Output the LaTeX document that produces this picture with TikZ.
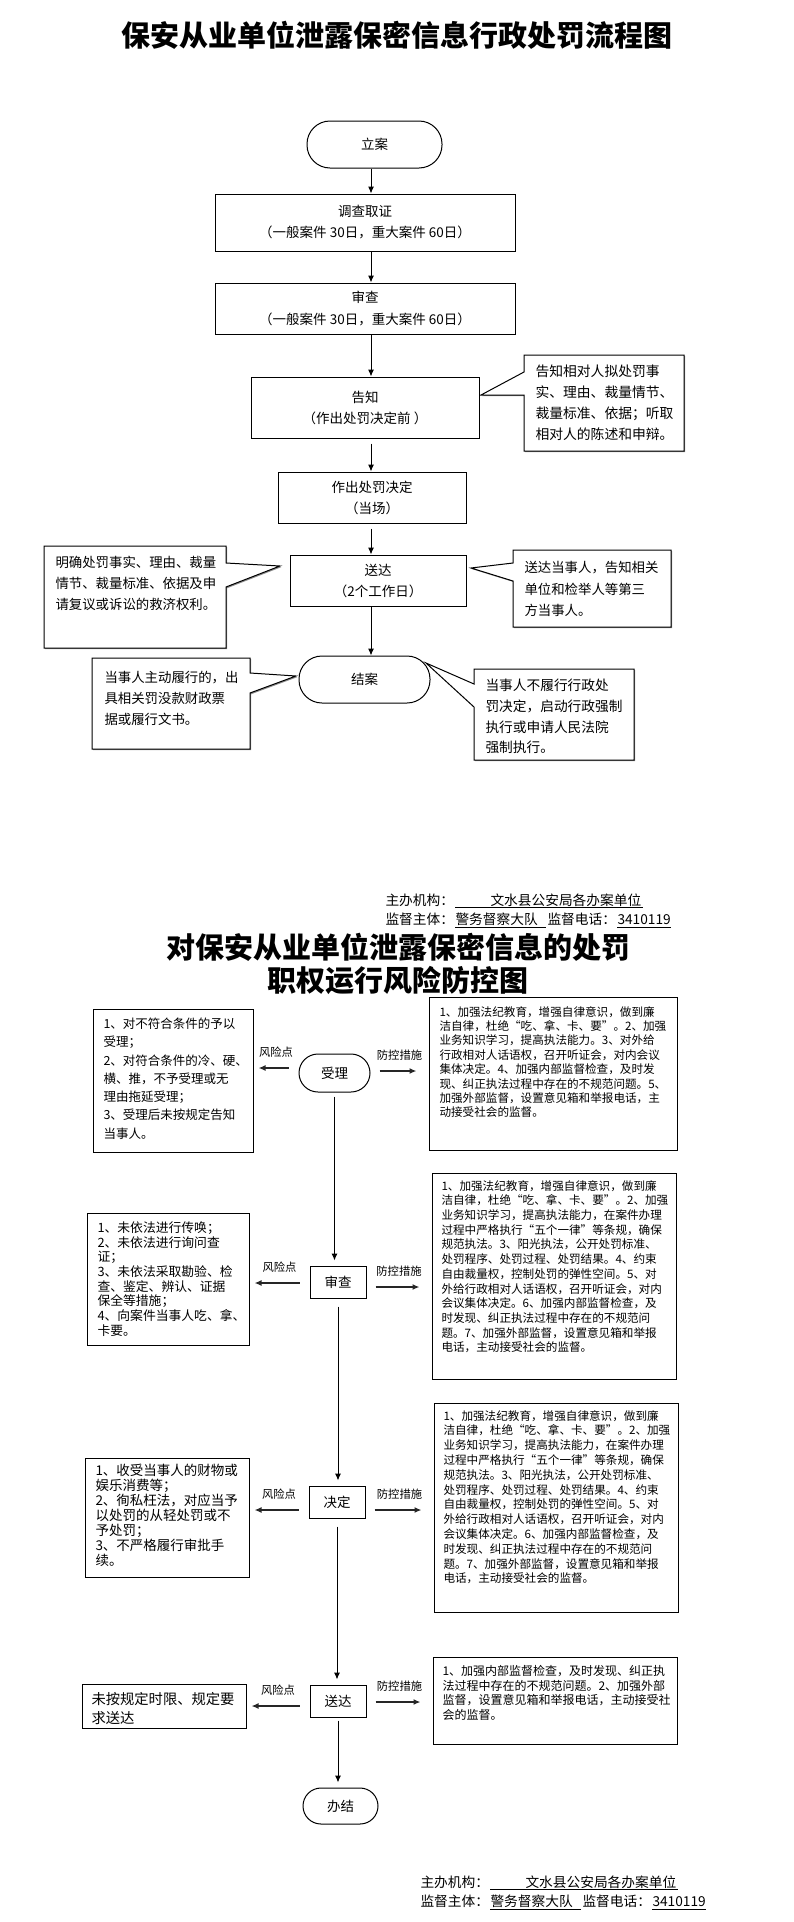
\documentclass[tikz,border=0pt]{standalone}
\usepackage{fontspec}
\setmainfont{Noto Sans CJK SC}
\usetikzlibrary{arrows.meta,shadows}
\definecolor{shadowgray}{HTML}{8C8C8C}
\definecolor{arrowgray}{HTML}{262626}
\newcommand{\fsz}[2]{\fontsize{#1}{#2}\selectfont}
\newcommand{\controltext}{1、加强法纪教育，增强自律意识，做到廉\\洁自律，杜绝“吃、拿、卡、要”。2、加强\\业务知识学习，提高执法能力，在案件办理\\过程中严格执行“五个一律”等条规，确保\\规范执法。3、阳光执法，公开处罚标准、\\处罚程序、处罚过程、处罚结果。4、约束\\自由裁量权，控制处罚的弹性空间。5、对\\外给行政相对人话语权，召开听证会，对内\\会议集体决定。6、加强内部监督检查，及\\时发现、纠正执法过程中存在的不规范问\\题。7、加强外部监督，设置意见箱和举报\\电话，主动接受社会的监督。}
\begin{document}
\begin{tikzpicture}[x=1pt,y=-1pt,>={Latex[length=7pt,width=6pt]},line width=1pt,
box/.style={draw,align=center,inner sep=0pt,font=\fsz{13.5}{21}},
frame/.style 2 args={draw,inner sep=0pt,minimum width=#1,minimum height=#2},
note/.style={align=left,anchor=north west,inner sep=0pt},
callout/.style={draw,fill=white,drop shadow={shadow xshift=1.2pt,shadow yshift=-1.2pt,fill=shadowgray,opacity=1}},
risk/.style={->,line width=1.5pt,color=arrowgray,shorten <=10pt,shorten >=5pt},
guard/.style={->,line width=1.5pt,color=arrowgray,shorten <=9pt,shorten >=12pt},
tag/.style={font=\fsz{11.3}{13},inner sep=0pt,text=black},
meta/.style={anchor=west,inner sep=0pt,font=\fsz{13.7}{16}}]
\useasboundingbox (0,0) rectangle (793,1922);
\node[font=\fsz{29}{33}\bfseries] (title) at (397,35) {保安从业单位泄露保密信息行政处罚流程图};
\node[box,rounded corners=23pt,minimum width=135pt,minimum height=47pt] (lian) at (374.5,144.5) {立案};
\node[box,minimum width=300pt,minimum height=57pt] (diaocha) at (365,222.5) {调查取证\\（一般案件 30日，重大案件 60日）};
\node[box,minimum width=300pt,minimum height=51pt] (shencha) at (365,308.5) {审查\\（一般案件 30日，重大案件 60日）};
\node[box,minimum width=228pt,minimum height=61pt] (gaozhi) at (365,407.5) {告知\\（作出处罚决定前 ）};
\node[box,minimum width=188pt,minimum height=51pt] (zuochu) at (372,497.5) {作出处罚决定\\（当场）};
\node[box,minimum width=176pt,minimum height=51pt] (songda) at (378,580.5) {送达\\（2个工作日）};
\node[box,rounded corners=23pt,minimum width=131pt,minimum height=47pt] (jiean) at (364.5,679.5) {结案};
\coordinate (axis) at (371,0);
\foreach \a/\b/\g in {lian/diaocha/0,diaocha/shencha/0,shencha/gaozhi/0,gaozhi/zuochu/5,zuochu/songda/5,songda/jiean/0}{\draw[->,shorten <=\g pt](\a.south-|axis)--(\b.north-|axis);}
\draw[callout](524,355)--(524,372)--(481,395)--(524,395)--(524,451)--(684,451)--(684,355)--cycle;
\node[note,font=\fsz{13.8}{20.7}] (gaozhinote) at (535,364.8) {告知相对人拟处罚事\\实、理由、裁量情节、\\裁量标准、依据；听取\\相对人的陈述和申辩。};
\draw[callout](44,546)--(226,546)--(226,563)--(280,566)--(226,587)--(226,648)--(44,648)--cycle;
\node[note,font=\fsz{13.4}{21}] (songdaleft) at (55,556) {明确处罚事实、理由、裁量\\情节、裁量标准、依据及申\\请复议或诉讼的救济权利。};
\draw[callout](513,550)--(671,550)--(671,627)--(513,627)--(513,581)--(471,568)--(513,563)--cycle;
\node[note,font=\fsz{13.4}{21.5}] (songdaright) at (524,561) {送达当事人，告知相关\\单位和检举人等第三\\方当事人。};
\draw[callout](92,658)--(250,658)--(250,673)--(296,676)--(250,693)--(250,749)--(92,749)--cycle;
\node[note,font=\fsz{13.4}{21}] (jieanleft) at (104,671) {当事人主动履行的，出\\具相关罚没款财政票\\据或履行文书。};
\draw[callout](474,669)--(634,669)--(634,760)--(474,760)--(474,707)--(426,663)--(474,684)--cycle;
\node[note,font=\fsz{13.7}{20.7}] (jieanright) at (485,678.8) {当事人不履行行政处\\罚决定，启动行政强制\\执行或申请人民法院\\强制执行。};
\foreach \x/\y/\n in {385/900/A,420/1882/B}{\node[meta] (host\n) at (\x,\y) {主办机构：};\node[meta] (unit\n) at (\x+105,\y) {文水县公安局各办案单位};\draw (\x+70,\y+7.5)--(\x+258,\y+7.5);
\node[meta] (super\n) at (\x,\y+19.5) {监督主体：};\node[meta] (team\n) at (\x+70,\y+19.5) {警务督察大队};\draw (\x+70,\y+27)--(\x+161,\y+27);
\node[meta] (tel\n) at (\x+162,\y+19.5) {监督电话：};\node[meta] (num\n) at (\x+232,\y+19.5) {3410119};\draw (\x+232,\y+27)--(\x+286,\y+27);}
\node[font=\fsz{29}{33}\bfseries,align=center] (title2) at (398,963.5) {对保安从业单位泄露保密信息的处罚\\职权运行风险防控图};
\node[box,rounded corners=19pt,minimum width=71pt,minimum height=38pt] (shouli) at (334.5,1073) {受理};
\node[box,minimum width=56pt,minimum height=32pt] (shenchaB) at (338,1282) {审查};
\node[box,minimum width=56pt,minimum height=32pt] (jueding) at (337,1502) {决定};
\node[box,minimum width=56pt,minimum height=32pt] (songdaB) at (338,1701) {送达};
\node[box,rounded corners=18pt,minimum width=75pt,minimum height=36pt] (banjie) at (340.5,1806) {办结};
\node[frame={160pt}{143pt}] (risk1) at (173,1080.5) {};\node[frame={248pt}{153pt}] (guard1) at (553,1073.5) {};
\node[frame={162pt}{132pt}] (risk2) at (168,1279) {};\node[frame={244pt}{206pt}] (guard2) at (554,1276) {};
\node[frame={164pt}{119pt}] (risk3) at (167,1517.5) {};\node[frame={244pt}{209pt}] (guard3) at (556,1507.5) {};
\node[frame={164pt}{44pt}] (risk4) at (164,1706) {};\node[frame={244pt}{87pt}] (guard4) at (555,1700.5) {};
\node[note,font=\fsz{12.5}{18.3}] (risk1text) at (103,1017.4) {1、对不符合条件的予以\\受理；\\2、对符合条件的冷、硬、\\横、推，不予受理或无\\理由拖延受理；\\3、受理后未按规定告知\\当事人。};
\node[note,font=\fsz{11.6}{14.4}] (guard1text) at (439,1005.8) {1、加强法纪教育，增强自律意识，做到廉\\洁自律，杜绝“吃、拿、卡、要”。2、加强\\业务知识学习，提高执法能力。3、对外给\\行政相对人话语权，召开听证会，对内会议\\集体决定。4、加强内部监督检查，及时发\\现、纠正执法过程中存在的不规范问题。5、\\加强外部监督，设置意见箱和举报电话，主\\动接受社会的监督。};
\node[note,font=\fsz{12.8}{14.7}] (risk2text) at (97,1221.2) {1、未依法进行传唤；\\2、未依法进行询问查\\证；\\3、未依法采取勘验、检\\查、鉴定、辨认、证据\\保全等措施；\\4、向案件当事人吃、拿、\\卡要。};
\node[note,font=\fsz{11.6}{14.7}] (guard2text) at (441,1179.8) {\controltext};
\node[note,font=\fsz{13.5}{15}] (risk3text) at (95,1463.9) {1、收受当事人的财物或\\娱乐消费等；\\2、徇私枉法，对应当予\\以处罚的从轻处罚或不\\予处罚；\\3、不严格履行审批手\\续。};
\node[note,font=\fsz{11.6}{14.8}] (guard3text) at (443,1409.8) {\controltext};
\node[note,font=\fsz{14.3}{19}] (risk4text) at (91,1691.6) {未按规定时限、规定要\\求送达};
\node[note,font=\fsz{12}{14.7}] (guard4text) at (442,1664.8) {1、加强内部监督检查，及时发现、纠正执\\法过程中存在的不规范问题。2、加强外部\\监督，设置意见箱和举报电话，主动接受社\\会的监督。};
\foreach \s/\n/\dr/\dg in {shouli/1/5/2,shenchaB/2/-1/-5,jueding/3/-8/-8,songdaB/4/-5/-1}{
\draw[risk]([yshift=\dr pt]\s.west)--([yshift=\dr pt]\s.west-|risk\n.east) node[tag,midway,above=10pt] (risktag\n) {风险点};
\draw[guard]([yshift=\dg pt]\s.east)--([yshift=\dg pt]\s.east-|guard\n.west) node[tag,midway,above=10pt] (guardtag\n) {防控措施};}
\foreach \a/\b/\g in {shouli/shenchaB/4,shenchaB/jueding/8,jueding/songdaB/8,songdaB/banjie/3}{\draw[->,shorten <=\g pt,shorten >=5pt](\a.south)--(\a.south|-\b.north);}
\end{tikzpicture}
\end{document}
